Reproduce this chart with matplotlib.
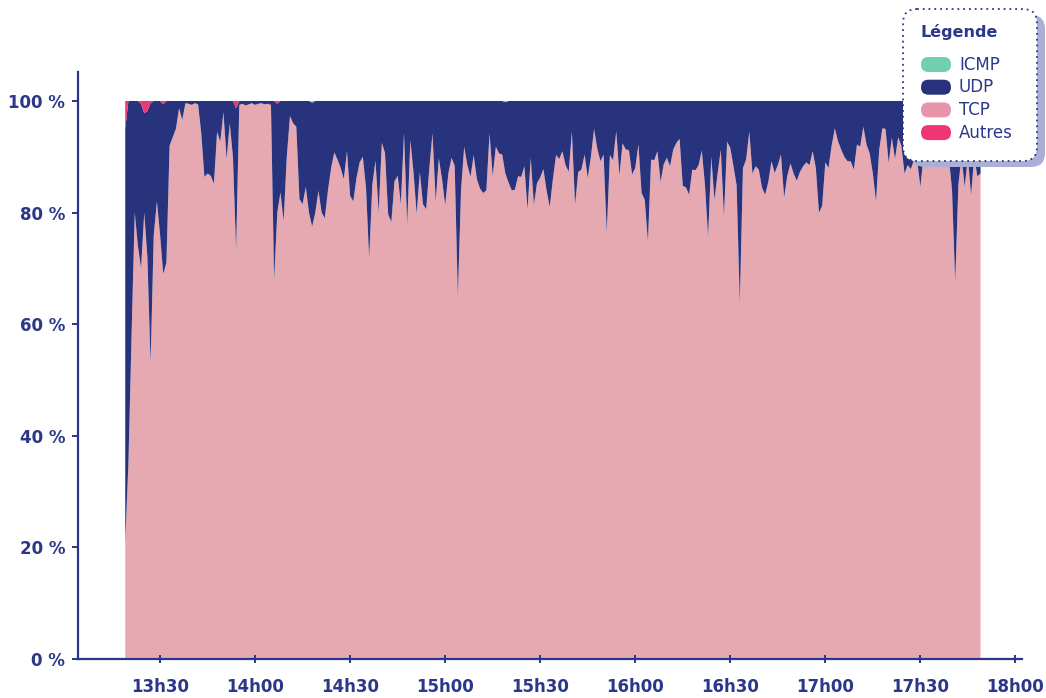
import matplotlib

matplotlib.use("Agg")

import matplotlib.dates as mdates
import matplotlib.pyplot as plt
import numpy as np
import pandas as pd
from matplotlib.patches import FancyBboxPatch


# share of traffic per minute (%), starting at 13h19
START = "2020-01-01 13:19"

TCP = [
    21, 35, 58, 80, 74, 70, 80, 72, 53, 76,
    82, 76, 69, 71, 92, 93.5, 95, 98.7, 96.6, 99.6,
    99.5, 99.3, 99.6, 99.4, 94.2, 86.4, 87, 86.6, 85.2, 94.5,
    92.7, 98, 89.6, 96, 90, 73.3, 99.3, 99.5, 99.2, 99.4,
    99.6, 99.3, 99.5, 99.6, 99.4, 99.5, 99.3, 68, 80, 83.6,
    78.5, 90, 97.3, 96, 95.4, 82.4, 81.5, 84.6, 80, 77.5,
    80, 83.9, 80, 79, 84, 88, 90.8, 89.5, 88, 86,
    91, 83, 82, 86.2, 89, 90, 84.5, 71.8, 85, 89.3,
    80, 92.5, 90.7, 79.7, 78.3, 85.6, 86.6, 81.5, 94.3, 77.8,
    93, 87.2, 79.8, 87.2, 81.5, 80.6, 88, 94.2, 82, 89.7,
    86, 81.3, 87, 89.8, 88.4, 65, 84, 91.8, 88.5, 86.4,
    90.3, 86, 84.3, 83.5, 84, 94.2, 86.5, 91.8, 90.6, 90.4,
    87, 85.4, 84, 84.1, 86.5, 86.4, 88.3, 80.6, 89.8, 81.4,
    85.3, 86.3, 87.8, 84, 81, 86, 90.3, 89.6, 91, 88.5,
    87.3, 94.5, 81.4, 87.3, 87.7, 90.4, 86.2, 90, 95, 91.5,
    89.2, 90.4, 76.5, 90.3, 89.4, 94.6, 86.7, 92.4, 91.3, 91.2,
    86.8, 88, 92.2, 83.5, 82.3, 74.8, 89.5, 89.4, 91, 85.5,
    88.7, 89.8, 88.3, 91.3, 92.5, 93.2, 84.8, 84.5, 83.2, 87.7,
    87.6, 88.5, 91.1, 85, 75.7, 90, 82.3, 87, 91.3, 79.3,
    92.7, 91.6, 88.3, 84.9, 63.7, 88, 89.5, 94.5, 87, 88.3,
    87.7, 84.5, 83.2, 85.5, 89.2, 87.1, 88.5, 90.4, 82.7, 86.6,
    88.8, 87, 85.7, 87.3, 88.3, 89, 88.5, 91, 88, 80,
    81.2, 89, 88, 92, 95.1, 92.8, 91.3, 90, 89.2, 89.2,
    87.7, 92.2, 91.8, 95.4, 92.2, 90.6, 87, 82, 91.2, 95.1,
    95, 88.9, 93.4, 89.6, 93.5, 92, 87, 88.5, 87.8, 89.5,
    89.3, 84.6, 90, 92, 94, 90, 93, 91, 89, 93,
    90, 84, 67.5, 85, 90, 84.6, 90, 83.1, 90, 86.5,
    87,
]

# the few minutes where "Autres" / ICMP are visible
AUTRES_AT = [0, 5, 6, 7, 8, 12, 35, 48]
AUTRES_PCT = [5.0, 0.5, 2.2, 1.8, 0.4, 0.6, 1.3, 0.5]
ICMP_AT = [59, 120]
ICMP_PCT = [0.3, 0.2]

LEGEND_LABELS = ["ICMP", "UDP", "TCP", "Autres"]
TICK_LABELS = ["0 %", "20 %", "40 %", "60 %", "80 %", "100 %"]

NAVY = "#2b3788"
C_ICMP = "#6fcfae"
C_UDP = "#27337c"
C_TCP = "#e6a9b1"
C_TCP_LEG = "#e695a9"
C_AUTRES = "#ef3572"


def main():
    tcp = np.array(TCP, dtype=float)
    autres = np.zeros_like(tcp)
    autres[AUTRES_AT] = AUTRES_PCT
    icmp = np.zeros_like(tcp)
    icmp[ICMP_AT] = ICMP_PCT
    udp = 100 - tcp - autres - icmp

    times = pd.date_range(START, periods=len(tcp), freq="1min")
    x = mdates.date2num(times.to_pydatetime())

    plt.rcParams["font.family"] = ["DejaVu Sans"]

    fig = plt.figure(figsize=(10.46, 6.98), dpi=100)
    ax = fig.add_axes([0.0743, 0.0559, 0.9025, 0.841])

    ax.stackplot(
        x, tcp, udp, icmp, autres,
        colors=[C_TCP, C_UDP, C_ICMP, C_AUTRES],
        linewidth=0,
    )

    ax.set_ylim(0, 105.2)
    ax.set_xlim(
        mdates.date2num(pd.Timestamp("2020-01-01 13:04")),
        mdates.date2num(pd.Timestamp("2020-01-01 18:02")),
    )
    ax.set_yticks([0, 20, 40, 60, 80, 100])
    ax.set_yticklabels(TICK_LABELS)
    ax.xaxis.set_major_locator(mdates.MinuteLocator(byminute=[0, 30]))
    ax.xaxis.set_major_formatter(mdates.DateFormatter("%Hh%M"))

    for side in ("top", "right"):
        ax.spines[side].set_visible(False)
    for side in ("left", "bottom"):
        ax.spines[side].set_color(NAVY)
        ax.spines[side].set_linewidth(1.6)

    ax.tick_params(axis="y", direction="out", length=4, width=1.4, color=NAVY,
                   labelcolor=NAVY, labelsize=12, pad=5)
    ax.tick_params(axis="x", direction="inout", length=6, width=1.4, color=NAVY,
                   labelcolor=NAVY, labelsize=12, pad=11)
    for lab in ax.get_xticklabels() + ax.get_yticklabels():
        lab.set_fontweight("bold")

    # legend box drawn in pixel coordinates
    ov = fig.add_axes([0, 0, 1, 1], zorder=10)
    ov.set_xlim(0, 1046)
    ov.set_ylim(698, 0)
    ov.axis("off")
    ov.patch.set_alpha(0)

    ov.add_patch(FancyBboxPatch(
        (911, 15), 134, 152, boxstyle="round,pad=0,rounding_size=14",
        facecolor="#a9afd6", edgecolor="none"))
    ov.add_patch(FancyBboxPatch(
        (903, 9), 134, 152, boxstyle="round,pad=0,rounding_size=14",
        facecolor="white", edgecolor=NAVY, linewidth=1.3,
        linestyle=(0, (1, 2.2))))
    ov.text(921, 32, "Légende", fontsize=11.5, fontweight="bold", color=NAVY,
            ha="left", va="center")

    swatches = [C_ICMP, C_UDP, C_TCP_LEG, C_AUTRES]
    for k, (label, col) in enumerate(zip(LEGEND_LABELS, swatches)):
        yc = 64.5 + k * 22.7
        ov.add_patch(FancyBboxPatch(
            (921, yc - 7.5), 30, 15, boxstyle="round,pad=0,rounding_size=7.5",
            facecolor=col, edgecolor="none"))
        ov.text(959, yc, label, fontsize=12, color=NAVY, ha="left", va="center")

    fig.savefig("out.png", dpi=100)


if __name__ == "__main__":
    main()
